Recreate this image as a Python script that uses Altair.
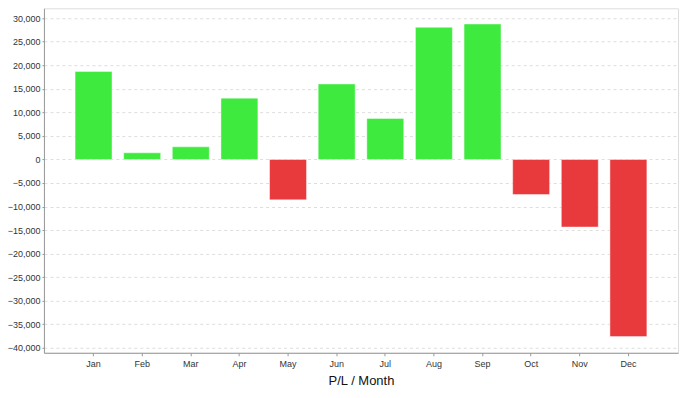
import altair as alt
import pandas as pd

months = ["Jan", "Feb", "Mar", "Apr", "May", "Jun", "Jul", "Aug", "Sep", "Oct", "Nov", "Dec"]
pl_values = [18700, 1410, 2680, 13020, -8580, 16030, 8710, 28060, 28760, -7450, -14350, -37620]
y_ticks = list(range(-40000, 30001, 5000))

df = pd.DataFrame({"month": months, "pl": pl_values})
df["sign"] = ["gain" if v >= 0 else "loss" for v in pl_values]

bars = alt.Chart(df).mark_bar(strokeWidth=1, strokeOpacity=0.45, stroke="white").encode(
    x=alt.X(
        "month:N",
        sort=months,
        scale=alt.Scale(paddingInner=0.24, paddingOuter=0.64),
        axis=alt.Axis(
            title="P/L / Month",
            labelAngle=0,
            labelFontSize=9,
            labelColor="#333333",
            labelFont="Liberation Sans",
            labelPadding=4,
            tickSize=3,
            tickColor="#999999",
            domainColor="#999999",
            titleFont="Liberation Sans",
            titleFontSize=13,
            titleFontWeight="normal",
            titleColor="#111111",
            titlePadding=6,
            grid=False,
        ),
    ),
    y=alt.Y(
        "pl:Q",
        scale=alt.Scale(domain=[-41050, 32100], nice=False, zero=False),
        axis=alt.Axis(
            title=None,
            values=y_ticks,
            format=",.0f",
            labelFontSize=9,
            labelColor="#333333",
            labelFont="Liberation Sans",
            labelPadding=2,
            tickSize=2,
            tickColor="#999999",
            domainColor="#999999",
            grid=True,
            gridColor="#dddddd",
            gridDash=[3, 3],
            gridWidth=1,
        ),
    ),
    color=alt.Color(
        "sign:N",
        scale=alt.Scale(domain=["gain", "loss"], range=["#3dea3d", "#e8393d"]),
        legend=None,
    ),
)

chart = bars.properties(
    width=635,
    height=345,
    autosize=alt.AutoSizeParams(type="none"),
    padding={"left": 36, "top": 0, "right": 2, "bottom": 40},
).configure_view(stroke="#cccccc", strokeWidth=1).configure(background="white")

chart.save("out.html", embed_options={"renderer": "svg", "actions": False})
